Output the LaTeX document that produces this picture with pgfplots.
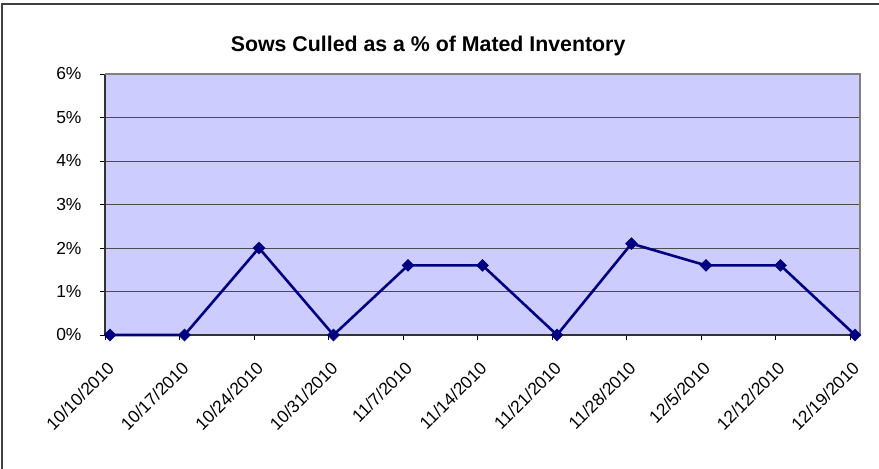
\documentclass[border=0pt]{standalone}
\usepackage{pgfplots}
\pgfplotsset{compat=1.18}
\usepackage{fontspec}
\setmainfont{Liberation Sans}
\definecolor{bgc}{HTML}{CCCCFF}
\definecolor{navyc}{HTML}{000080}
\begin{document}
\begin{tikzpicture}[x=1bp,y=1bp]
\useasboundingbox (0,0) rectangle (879,469);
\draw[line width=1.5bp, black!75] (2,0) -- (2,465) -- (879,465);
\begin{axis}[
  at={(105bp,134bp)}, anchor=south west,
  scale only axis, width=755bp, height=261bp,
  xmin=-0.067, xmax=10.067, ymin=0, ymax=6,
  axis background/.style={fill=bgc},
  axis x line*=bottom, axis y line*=left,
  axis line style={black!80, line width=1.2bp, -},
  clip=false,
  ytick={0,...,6},
  yticklabel={\pgfmathprintnumber{\tick}\%},
  ymajorgrids, grid style={black!70, line width=0.8bp},
  xtick={0,...,10},
  minor xtick={-0.067,0.933,1.933,2.933,3.933,4.933,5.933,6.933,7.933,8.933,9.933},
  xticklabels={10/10/2010,10/17/2010,10/24/2010,10/31/2010,11/7/2010,11/14/2010,11/21/2010,11/28/2010,12/5/2010,12/12/2010,12/19/2010},
  tick align=outside, major tick length=5bp, minor tick length=5bp,
  x tick style={draw=none}, minor x tick style={draw=black, line width=0.8bp},
  y tick style={black, line width=0.8bp},
  ticklabel style={font=\fontsize{17.5}{20}\selectfont},
  /pgf/number format/assume math mode=true,
  xticklabel style={inner sep=0pt, xshift=1bp, yshift=-25bp, rotate=45, anchor=east},
  yticklabel style={xshift=-15bp},
  title={\bfseries Sows Culled as a \% of Mated Inventory},
  title style={at={(0.428,1)}, anchor=center, yshift=22bp, font=\fontsize{21.4}{24}\selectfont},
]
\draw[gray, line width=1.5bp] (rel axis cs:0,1) -- (rel axis cs:1,1) -- (rel axis cs:1,0);
\addplot[navyc, line width=2.6bp, mark=square*, mark size=4.2bp, mark options={rotate=45, fill=navyc, draw=navyc, line width=0.5bp}]
coordinates {(0,0) (1,0) (2,2.0) (3,0) (4,1.6) (5,1.6) (6,0) (7,2.1) (8,1.6) (9,1.6) (10,0)};
\end{axis}
\end{tikzpicture}
\end{document}
